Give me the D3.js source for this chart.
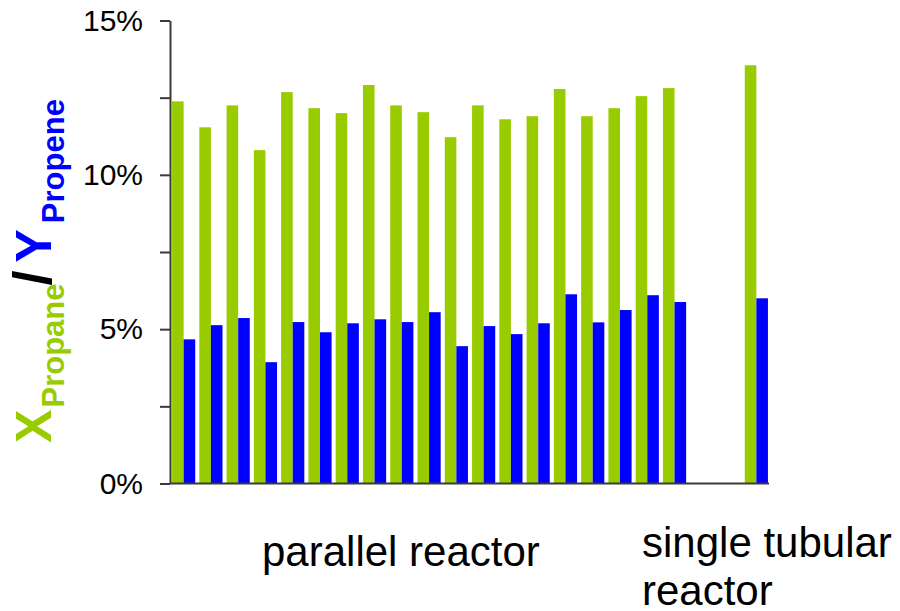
<!DOCTYPE html>
<html>
<head>
<meta charset="utf-8">
<script src="https://cdn.jsdelivr.net/npm/d3@7"></script>
<style>
    body { margin: 0; background: #fff; }
    svg { display: block; font-family: "Liberation Sans", Arial, sans-serif; }
    .axis path, .axis line { stroke: #3a3a3a; stroke-width: 2; }
    .axis text { fill: #000; font-size: 30px; font-family: "Liberation Sans", Arial, sans-serif; }
</style>
</head>
<body>
<script>
// values (percent)
const parallelConversion = [12.38, 11.54, 12.25, 10.80, 12.68, 12.16, 12.00, 12.91, 12.25, 12.03,
    11.22, 12.25, 11.80, 11.90, 12.78, 11.90, 12.16, 12.55, 12.81]
const parallelYield = [4.67, 5.13, 5.36, 3.93, 5.23, 4.90, 5.19, 5.32, 5.23, 5.55,
    4.45, 5.10, 4.84, 5.19, 6.13, 5.22, 5.62, 6.10, 5.88]
const tubularConversion = [13.55]
const tubularYield = [6.00]
const yTicks = [0, 2.5, 5, 7.5, 10, 12.5, 15]
const seriesKeys = ["conversion", "yield"]
const seriesColors = ["#99cc00", "#0000ff"]

const WIDTH = 900
const HEIGHT = 611
const SLOTS = 22 // 19 parallel runs, two empty slots, one tubular run

const dataset = parallelConversion.map((c, i) => ({ slot: i, conversion: c, yield: parallelYield[i] }))
    .concat(tubularConversion.map((c, i) => ({ slot: SLOTS - 1 - i, conversion: c, yield: tubularYield[i] })))

const svg = d3.select("body")
    .append("svg")
    .attr("width", WIDTH)
    .attr("height", HEIGHT)

const xScale = d3.scaleBand()
    .domain(d3.range(SLOTS))
    .range([170, 770])
    .paddingInner(0.15)
    .paddingOuter(0.075)

const subScale = d3.scaleBand()
    .domain(seriesKeys)
    .range([0, xScale.bandwidth()])

const colorScale = d3.scaleOrdinal()
    .domain(seriesKeys)
    .range(seriesColors)

const yScale = d3.scaleLinear()
    .domain([0, 15])
    .range([483.5, 20.5])

svg.append("g")
    .selectAll("g")
    .data(dataset)
    .enter()
    .append("g")
    .attr("transform", d => "translate(" + xScale(d.slot) + ",0)")
    .selectAll("rect")
    .data(d => seriesKeys.map(k => ({ key: k, value: d[k] })))
    .enter()
    .append("rect")
    .attr("x", d => subScale(d.key))
    .attr("y", d => yScale(d.value))
    .attr("width", subScale.bandwidth())
    .attr("height", d => yScale(0) - yScale(d.value))
    .attr("fill", d => colorScale(d.key))

const yAxis = d3.axisLeft(yScale)
    .tickValues(yTicks)
    .tickSize(10)
    .tickSizeOuter(0)
    .tickPadding(17)
    .tickFormat(d => d % 5 === 0 ? d + "%" : "")

svg.append("g")
    .attr("class", "axis")
    .attr("transform", "translate(170, 0)")
    .call(yAxis)

const xAxis = d3.axisBottom(xScale)
    .tickSize(0)
    .tickSizeOuter(0)
    .tickFormat("")

svg.append("g")
    .attr("class", "axis")
    .attr("transform", "translate(0, " + yScale(0) + ")")
    .call(xAxis)
    .select(".domain")
    .attr("d", "M170,0H769")

// category labels
svg.append("text")
    .attr("x", 262)
    .attr("y", 566)
    .attr("font-size", 42)
    .text("parallel reactor")

const tub = svg.append("text")
    .attr("x", 642)
    .attr("y", 557)
    .attr("font-size", 42)
tub.append("tspan").text("single tubular")
tub.append("tspan").attr("x", 642).attr("dy", 48).text("reactor")

// y axis title
const title = svg.append("text")
    .attr("transform", "translate(51, 271) rotate(-90)")
    .attr("text-anchor", "middle")
    .attr("font-weight", "bold")
    .attr("font-size", 50)

title.append("tspan").attr("fill", seriesColors[0]).text("X")
title.append("tspan").attr("fill", seriesColors[0]).attr("font-size", 31).attr("dy", 13).attr("dx", 2).text("Propane")
title.append("tspan").attr("fill", "#000").attr("dy", -13).attr("dx", -2).attr("font-size", 54).text("/")
title.append("tspan").attr("fill", seriesColors[1]).attr("dx", 8).text("Y")
title.append("tspan").attr("fill", seriesColors[1]).attr("font-size", 31).attr("dy", 13).attr("dx", 6).text("Propene")
</script>
</body>
</html>
